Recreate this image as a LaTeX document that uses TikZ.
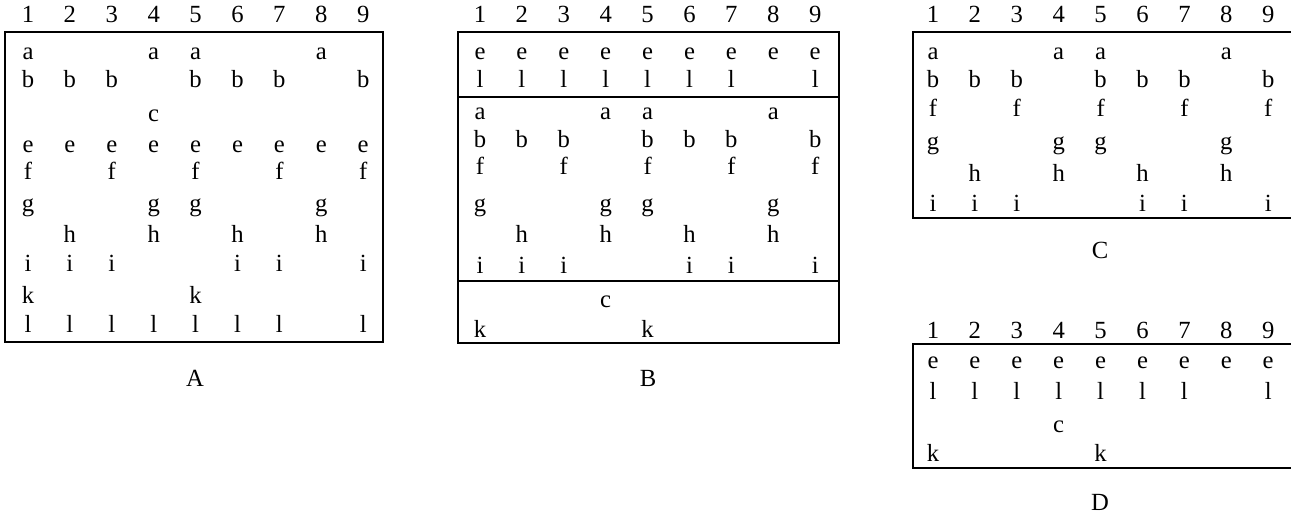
\documentclass[tikz,border=0pt]{standalone}
\usepackage{fontspec}
\setmainfont{Liberation Serif}
\usetikzlibrary{positioning}

% una riga della tabella: pannello, x della colonna 1, y della linea di base, voci
\newcommand{\riga}[4]{%
  \foreach \c [count=\n] in {#4} {
    \node[cella] (#1-#3-\n) at ({#2+41.9*(\n-1)}, #3) {\c};
  }%
}

\begin{document}
\begin{tikzpicture}[
        x=0.75pt, y=-0.75pt,
        % Stili per le celle e i bordi
        cella/.style={anchor=base, inner sep=0pt, font=\fontsize{18.5}{22}\selectfont},
        etichetta/.style={inner sep=0pt, font=\fontsize{18.5}{22}\selectfont},
        bordo/.style={line width=1.6pt, draw=black}
    ]
    \useasboundingbox (0,0) rectangle (1291,513);

    % --- PANNELLO A ---
    \riga{A}{28}{23}{1,2,3,4,5,6,7,8,9}
    \draw[bordo] (5,32) rectangle (383,342);
    \riga{A}{28}{60}{a,,,a,a,,,a,}
    \riga{A}{28}{88}{b,b,b,,b,b,b,,b}
    \riga{A}{28}{122}{,,,c,,,,,}
    \riga{A}{28}{153}{e,e,e,e,e,e,e,e,e}
    \riga{A}{28}{180}{f,,f,,f,,f,,f}
    \riga{A}{28}{212}{g,,,g,g,,,g,}
    \riga{A}{28}{243}{,h,,h,,h,,h,}
    \riga{A}{28}{272}{i,i,i,,,i,i,,i}
    \riga{A}{28}{303}{k,,,,k,,,,}
    \riga{A}{28}{332}{l,l,l,l,l,l,l,,l}
    \node[etichetta] (labA) at (195,378) {A};

    % --- PANNELLO B ---
    \riga{B}{480}{23}{1,2,3,4,5,6,7,8,9}
    \draw[bordo] (458,32) rectangle (839,343);
    \draw[bordo] (458,97) -- (839,97);
    \draw[bordo] (458,281) -- (839,281);
    \riga{B}{480}{60}{e,e,e,e,e,e,e,e,e}
    \riga{B}{480}{88}{l,l,l,l,l,l,l,,l}
    \riga{B}{480}{120}{a,,,a,a,,,a,}
    \riga{B}{480}{148}{b,b,b,,b,b,b,,b}
    \riga{B}{480}{175}{f,,f,,f,,f,,f}
    \riga{B}{480}{212}{g,,,g,g,,,g,}
    \riga{B}{480}{243}{,h,,h,,h,,h,}
    \riga{B}{480}{273}{i,i,i,,,i,i,,i}
    \riga{B}{480}{307}{,,,c,,,,,}
    \riga{B}{480}{337}{k,,,,k,,,,}
    \node[etichetta] (labB) at (648,378) {B};

    % --- PANNELLO C ---
    \riga{C}{933}{23}{1,2,3,4,5,6,7,8,9}
    \draw[bordo] (1292,32) -- (913,32) -- (913,218) -- (1292,218);
    \riga{C}{933}{60}{a,,,a,a,,,a,}
    \riga{C}{933}{88}{b,b,b,,b,b,b,,b}
    \riga{C}{933}{117}{f,,f,,f,,f,,f}
    \riga{C}{933}{150}{g,,,g,g,,,g,}
    \riga{C}{933}{182}{,h,,h,,h,,h,}
    \riga{C}{933}{212}{i,i,i,,,i,i,,i}
    \node[etichetta] (labC) at (1100,250) {C};

    % --- PANNELLO D ---
    \riga{D}{933}{338}{1,2,3,4,5,6,7,8,9}
    \draw[bordo] (1292,344) -- (913,344) -- (913,468) -- (1292,468);
    \riga{D}{933}{368}{e,e,e,e,e,e,e,e,e}
    \riga{D}{933}{399}{l,l,l,l,l,l,l,,l}
    \riga{D}{933}{432}{,,,c,,,,,}
    \riga{D}{933}{461}{k,,,,k,,,,}
    \node[etichetta] (labD) at (1100,502) {D};

\end{tikzpicture}
\end{document}
